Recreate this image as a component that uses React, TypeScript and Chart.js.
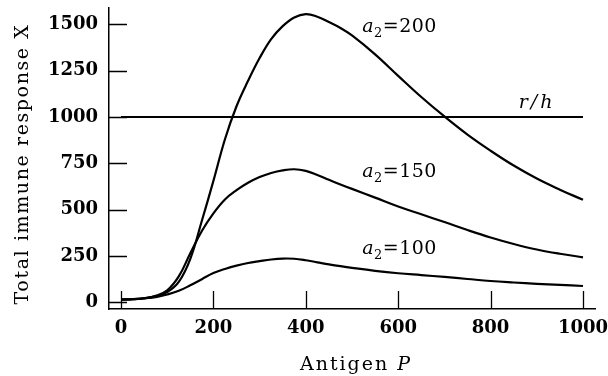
import React, { useEffect, useRef } from "react";
import { Chart, registerables } from "chart.js";

Chart.register(...registerables);

const antigenP = [0, 25, 50, 75, 100, 125, 150, 175, 200, 225, 250, 275, 300, 325, 350, 375, 400, 425, 450, 475, 500, 550, 600, 650, 700, 750, 800, 850, 900, 950, 1000];
const responseA200 = [15, 17, 22, 32, 55, 110, 235, 440, 655, 880, 1058, 1195, 1318, 1420, 1490, 1537, 1555, 1541, 1512, 1480, 1440, 1338, 1222, 1108, 1003, 905, 818, 738, 668, 608, 553];
const responseA150 = [15, 17, 22, 35, 65, 140, 265, 385, 480, 555, 605, 645, 676, 698, 712, 718, 709, 687, 661, 636, 612, 565, 517, 475, 433, 390, 350, 315, 285, 262, 243];
const responseA100 = [15, 17, 21, 28, 42, 62, 92, 125, 158, 180, 198, 212, 222, 231, 236, 235, 227, 216, 205, 195, 186, 170, 157, 147, 137, 126, 115, 107, 100, 94, 88];
const thresholdP = [0, 1000];
const thresholdRH = [1000, 1000];

const xTicks = [0, 200, 400, 600, 800, 1000];
const yTicks = [0, 250, 500, 750, 1000, 1250, 1500];

const curveLabels = [
  { sub: "2", value: "=200", x: 522, y: 1460 },
  { sub: "2", value: "=150", x: 522, y: 676 },
  { sub: "2", value: "=100", x: 522, y: 261 },
];
const rhLabel = { text: "r/h", x: 861, y: 1049 };

const FONT = '"DejaVu Serif", serif';

const textPlugin = {
  id: "customText",
  afterDraw(chart: any) {
    const ctx = chart.ctx as CanvasRenderingContext2D;
    const xs = chart.scales.x;
    const ys = chart.scales.y;
    ctx.save();
    ctx.fillStyle = "#000";
    ctx.strokeStyle = "#000";
    ctx.lineWidth = 1.3;
    // inward ticks
    const { left, bottom } = chart.chartArea;
    ctx.beginPath();
    xTicks.forEach((v) => {
      const px = Math.round(xs.getPixelForValue(v)) + 0.5;
      ctx.moveTo(px, bottom);
      ctx.lineTo(px, bottom - 18);
    });
    yTicks.forEach((v) => {
      const py = Math.round(ys.getPixelForValue(v)) + 0.5;
      ctx.moveTo(left, py);
      ctx.lineTo(left + 18, py);
    });
    ctx.stroke();

    ctx.textBaseline = "alphabetic";
    ctx.textAlign = "left";
    curveLabels.forEach((l) => {
      let px = xs.getPixelForValue(l.x);
      const py = ys.getPixelForValue(l.y);
      ctx.font = `italic 19px ${FONT}`;
      ctx.fillText("a", px, py);
      px += ctx.measureText("a").width + 0.5;
      ctx.font = `13px ${FONT}`;
      ctx.fillText(l.sub, px, py + 5);
      px += ctx.measureText(l.sub).width + 0.5;
      ctx.font = `19px ${FONT}`;
      (ctx as any).letterSpacing = "0.5px";
      ctx.fillText(l.value, px, py);
      (ctx as any).letterSpacing = "0px";
    });
    {
      const px = xs.getPixelForValue(rhLabel.x);
      const py = ys.getPixelForValue(rhLabel.y);
      ctx.font = `italic 19px ${FONT}`;
      (ctx as any).letterSpacing = "3px";
      ctx.fillText(rhLabel.text, px, py);
      (ctx as any).letterSpacing = "0px";
    }

    // x title
    ctx.textAlign = "left";
    ctx.font = `19px ${FONT}`;
    (ctx as any).letterSpacing = "2px";
    const part1 = "Antigen ";
    const w1 = ctx.measureText(part1).width;
    ctx.font = `italic 19px ${FONT}`;
    const w2 = ctx.measureText("P").width;
    const startX = 356 - (w1 + w2) / 2;
    ctx.font = `19px ${FONT}`;
    ctx.fillText(part1, startX, 370);
    ctx.font = `italic 19px ${FONT}`;
    ctx.fillText("P", startX + w1, 370);

    // y title
    ctx.translate(28, 164);
    ctx.rotate(-Math.PI / 2);
    ctx.textAlign = "center";
    ctx.font = `19px ${FONT}`;
    (ctx as any).letterSpacing = "1.6px";
    ctx.fillText("Total immune response X", 0, 0);
    ctx.restore();
  },
};

export default function App() {
  const canvasRef = useRef<HTMLCanvasElement>(null);

  useEffect(() => {
    if (!canvasRef.current) return;
    const mk = (vals: number[]) => antigenP.map((p, i) => ({ x: p, y: vals[i] }));
    const lineStyle = {
      borderColor: "#000",
      borderWidth: 2.2,
      pointRadius: 0,
      fill: false,
      tension: 0.4,
    };
    const tickFont = { family: "DejaVu Serif", size: 18, weight: "bold" as const, lineHeight: 1 };
    const chart = new Chart(canvasRef.current, {
      type: "line",
      data: {
        datasets: [
          { label: "a2=200", data: mk(responseA200), ...lineStyle },
          { label: "a2=150", data: mk(responseA150), ...lineStyle },
          { label: "a2=100", data: mk(responseA100), ...lineStyle },
          {
            label: "r/h",
            data: thresholdP.map((p, i) => ({ x: p, y: thresholdRH[i] })),
            borderColor: "#000",
            borderWidth: 2,
            pointRadius: 0,
            fill: false,
            tension: 0,
          },
        ],
      },
      options: {
        responsive: false,
        animation: false,
        layout: { padding: { left: 0, top: 8, right: 13, bottom: 0 } },
        plugins: { legend: { display: false }, tooltip: { enabled: false } },
        scales: {
          x: {
            type: "linear",
            min: -26,
            max: 1026,
            afterBuildTicks: (s: any) => {
              s.ticks = xTicks.map((v) => ({ value: v }));
            },
            afterFit: (s: any) => {
              s.height = 67;
              s.paddingLeft = 0;
              s.paddingRight = 0;
            },
            grid: { display: true, drawOnChartArea: false, drawTicks: false },
            border: { display: true, color: "#000", width: 1.5 },
            ticks: {
              color: "#000",
              font: tickFont,
              padding: 10,
              maxRotation: 0,
              callback: (v: any) => String(v),
            },
          },
          y: {
            type: "linear",
            min: -36,
            max: 1588,
            afterBuildTicks: (s: any) => {
              s.ticks = yTicks.map((v) => ({ value: v }));
            },
            afterFit: (s: any) => {
              s.width = 109;
              s.paddingTop = 0;
              s.paddingBottom = 0;
            },
            grid: { display: true, drawOnChartArea: false, drawTicks: false },
            border: { display: true, color: "#000", width: 1.5 },
            ticks: {
              color: "#000",
              font: tickFont,
              padding: 11,
              callback: (v: any) => String(v),
            },
          },
        },
      },
      plugins: [textPlugin],
    });
    return () => chart.destroy();
  }, []);

  return (
    <div style={{ position: "absolute", left: 0, top: 0, width: 608, height: 376, background: "#fff" }}>
      <canvas ref={canvasRef} width={608} height={376} />
    </div>
  );
}
